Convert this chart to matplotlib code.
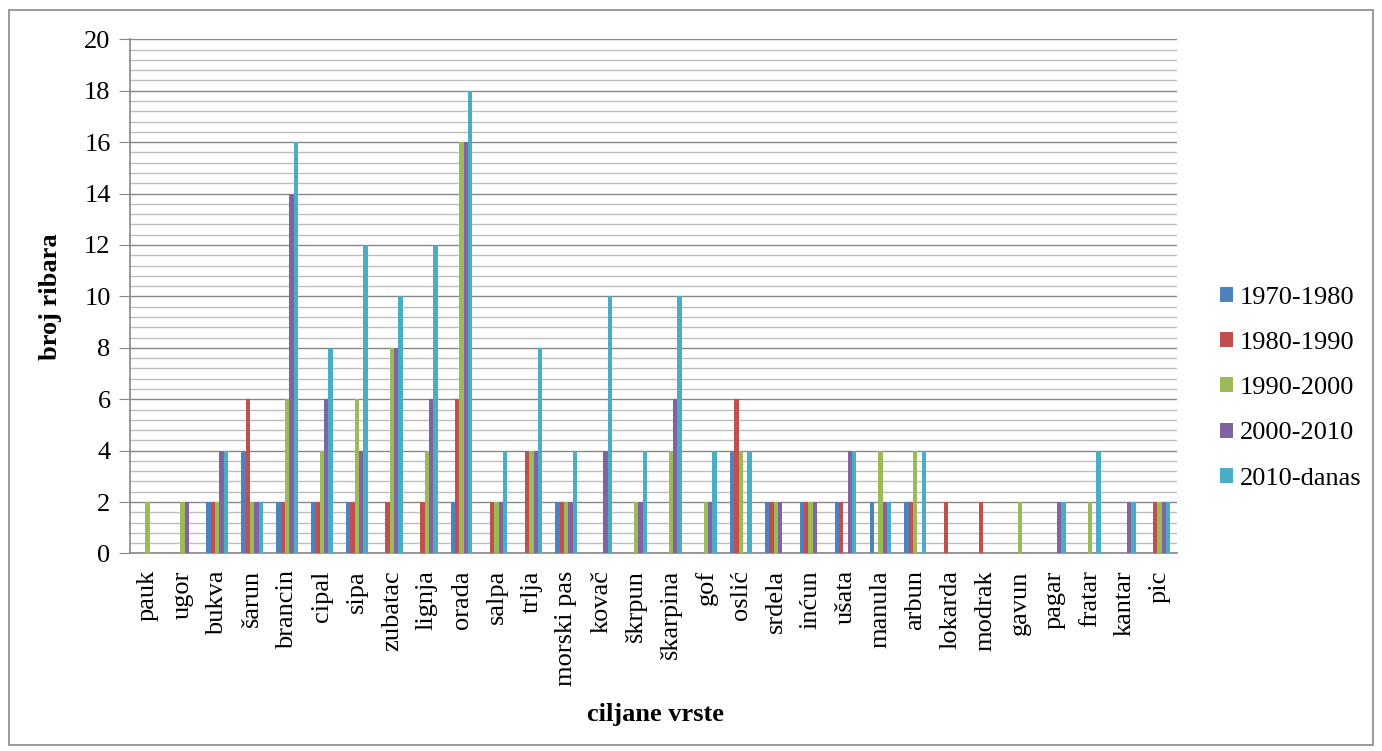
"""Grouped bar chart: target species by decade (Excel 2007 style)."""

import matplotlib

matplotlib.use("Agg")

import matplotlib.pyplot as plt  # noqa: E402
import numpy as np  # noqa: E402
from matplotlib.patches import Patch, Rectangle  # noqa: E402
from matplotlib.ticker import MultipleLocator  # noqa: E402

categories = [
    "pauk", "ugor", "bukva", "šarun", "brancin", "cipal", "sipa", "zubatac",
    "lignja", "orada", "salpa", "trlja", "morski pas", "kovač", "škrpun",
    "škarpina", "gof", "oslić", "srdela", "inćun", "ušata", "manula",
    "arbun", "lokarda", "modrak", "gavun", "pagar", "fratar", "kantar", "pic",
]

series_names = ["1970-1980", "1980-1990", "1990-2000", "2000-2010", "2010-danas"]

v1970 = [0, 0, 2, 4, 2, 2, 2, 0, 0, 2, 0, 0, 2, 0, 0,
         0, 0, 4, 2, 2, 2, 2, 2, 0, 0, 0, 0, 0, 0, 0]
v1980 = [0, 0, 2, 6, 2, 2, 2, 2, 2, 6, 2, 4, 2, 0, 0,
         0, 0, 6, 2, 2, 2, 0, 2, 2, 2, 0, 0, 0, 0, 2]
v1990 = [2, 2, 2, 2, 6, 4, 6, 8, 4, 16, 2, 4, 2, 0, 2,
         4, 2, 4, 2, 2, 0, 4, 4, 0, 0, 2, 0, 2, 0, 2]
v2000 = [0, 2, 4, 2, 14, 6, 4, 8, 6, 16, 2, 4, 2, 4, 2,
         6, 2, 0, 2, 2, 4, 2, 0, 0, 0, 0, 2, 0, 2, 2]
v2010 = [0, 0, 4, 2, 16, 8, 12, 10, 12, 18, 4, 8, 4, 10, 4,
         10, 4, 4, 0, 0, 4, 2, 4, 0, 0, 0, 2, 4, 2, 2]

colors = ["#4f81bd", "#c0504d", "#9bbb59", "#8064a2", "#4bacc6"]

plt.rcParams["font.family"] = ["Liberation Serif", "DejaVu Serif"]

fig = plt.figure(figsize=(13.82, 7.51), dpi=100)
ax = fig.add_axes([0.0941, 0.263, 0.7576, 0.6847])

x = np.arange(len(categories))
bar_w = 0.124
all_series = [v1970, v1980, v1990, v2000, v2010]
for i, (vals, col, name) in enumerate(zip(all_series, colors, series_names)):
    ax.bar(x + (i - 2) * bar_w, vals, width=bar_w, color=col, label=name,
           linewidth=0, zorder=3)

ax.set_xlim(-0.5, len(categories) - 0.5)
ax.set_ylim(0, 20)
ax.yaxis.set_major_locator(MultipleLocator(2))
ax.yaxis.set_minor_locator(MultipleLocator(0.4))

# gridlines: light minor, darker major
ax.grid(axis="y", which="minor", color="#bdbdbd", linewidth=1.0, zorder=0)
ax.grid(axis="y", which="major", color="#878787", linewidth=1.0, zorder=1)
ax.grid(axis="x", visible=False)
ax.set_axisbelow(True)

for side in ("top", "right"):
    ax.spines[side].set_visible(False)
for side in ("left", "bottom"):
    ax.spines[side].set_color("#878787")
    ax.spines[side].set_linewidth(1.2)

ax.set_xticks(x)
ax.set_xticklabels(categories, rotation=90, fontsize=19, va="top")
ax.tick_params(axis="x", length=0, pad=12)
ax.tick_params(axis="y", which="major", direction="out", length=8,
               color="#878787", labelsize=19, pad=6)
ax.tick_params(axis="y", which="minor", length=0)

ax.set_ylabel("broj ribara", fontsize=19, fontweight="bold", labelpad=16)
fig.text(0.474, 0.049, "ciljane vrste", fontsize=19, fontweight="bold",
         ha="center", va="center")

handles = [Patch(facecolor=c, edgecolor="none") for c in colors]
fig.legend(handles, series_names, loc="center left",
           bbox_to_anchor=(0.875, 0.483), frameon=False, fontsize=19,
           handlelength=0.5, handleheight=0.5, handletextpad=0.25,
           labelspacing=0.88, borderaxespad=0)

# outer chart border
fig.patches.append(Rectangle((0.0065, 0.008), 0.987, 0.979, transform=fig.transFigure,
                             fill=False, edgecolor="#878787", linewidth=1.2))

fig.savefig("out.png", dpi=100, facecolor="white")
plt.close(fig)
